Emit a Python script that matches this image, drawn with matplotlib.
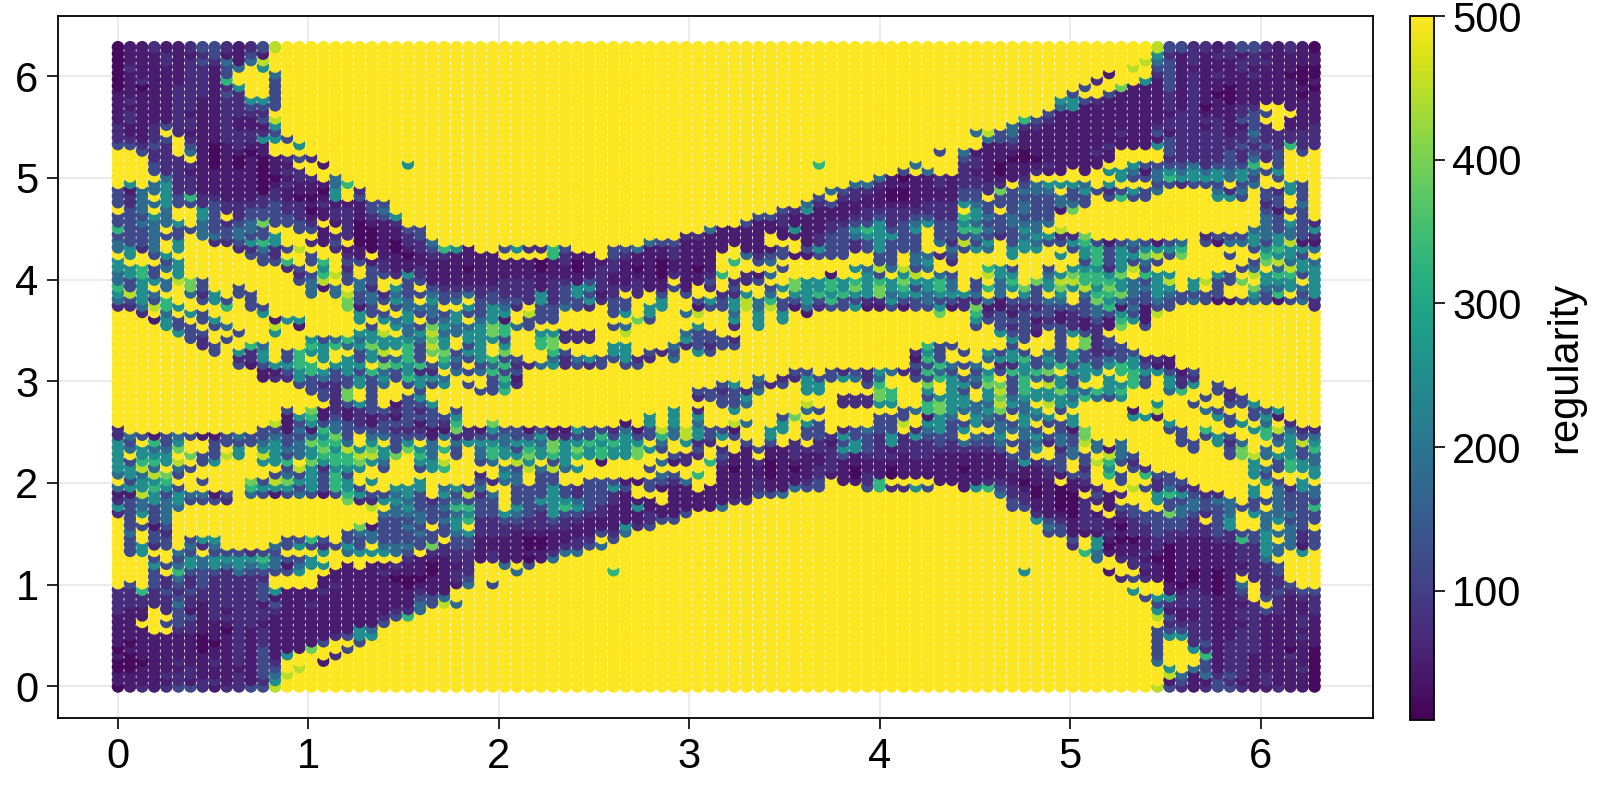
import numpy as np
import matplotlib
matplotlib.use("Agg")
import matplotlib.pyplot as plt
from matplotlib.colors import Normalize
from matplotlib.cm import ScalarMappable

plt.rcParams['font.family'] = ['Liberation Sans', 'DejaVu Sans']

# regularity, one digit per point, top row first
# Y = ten yellow points in a row, digit = index into level_values
level_values = [25, 50, 75, 120, 180, 250, 330, 390, 450, 500]
rows = [
"0112112332 1238999999 Y Y Y Y Y Y 9999998332 2123321210",
"0111211231 1319999999 Y Y Y Y Y Y 9999995212 1221211111",
"0111212324 1489999999 Y Y Y Y Y Y 9999984312 1112221111",
"0211112213 4959999999 Y Y Y Y Y Y 9999893311 1112111100",
"0111112213 9994999999 Y Y Y Y Y Y 9919992312 1211211000",
"0121112216 9993999999 Y Y Y Y Y Y 9299951312 1111111101",
"0101122212 5993999999 Y Y Y Y Y Y 3997111312 1101111110",
"1111122213 2993999999 Y Y Y Y Y 9999999993 9931111212 1001111101",
"1211122112 2553999999 Y Y Y Y Y 9999999955 3211111212 1101111111",
"1111122112 2333999999 Y Y Y Y Y 9999999945 1111111212 0112299111",
"1211121112 2229999999 Y Y Y Y Y 9999999311 1111111122 1112339911",
"1211122112 1138999999 Y Y Y Y Y 9999963211 1111111222 2213399111",
"2112322112 1115999999 Y Y Y Y Y 9999422111 1111112222 1211329112",
"2112921112 2223999999 Y Y Y Y Y 9483411111 1112113122 2212422222",
"2212392112 2255399999 Y Y Y Y Y 9943311111 1111111322 2222322222",
"3323293101 2119959999 Y Y Y Y Y 9911211111 1121115322 2223232622",
"9932294101 1019999999 Y Y Y Y 9999999939 4111101111 1219999322 2232323939",
"9992229101 0101232999 Y Y Y Y Y 3211000111 1119999222 2232423999",
"9993222101 0101199199 9999599999 Y Y 9999999969 9999994999 2210111211 1199533334 2333693999",
"9993221111 1101229999 Y Y Y Y 9999939499 2110112119 1955414545 4545435999",
"9999422111 1100122949 Y Y Y Y 9994101121 2211129999 9995334655 5545393999",
"9594522111 1101211146 Y Y Y Y 9442111121 2222934555 4959993323 3393499539",
"3144522111 1102111059 2999999999 Y Y 9999999994 3221001111 3327344493 5323534999 9424932539",
"3249536221 1122100159 3999999999 Y Y 9999999939 2211001111 3393333343 3936339999 9553933939",
"3244533232 2223221211 1339999999 Y Y 9999999423 1111111222 5433343344 3999999999 9999923949",
"9349499532 2333220122 1349999999 Y Y 9999932511 1122222222 9539343317 Y 9999931339",
"3335499539 2333321122 1235999999 Y Y 9993321111 1223223322 6543433399 Y 9999943939",
"3344459432 3473332912 0112999999 Y Y 9931121112 2335234533 5433444499 Y 9999943532",
"6334933433 4439933192 0011339999 Y 9999999994 1111115112 3565335933 6643354989 Y 9999443435",
"3334339443 4335999122 0011239999 Y 9999999221 1111911123 3455533933 3432345522 7999999999 2333545432",
"4334959922 3565992139 0010224999 Y 9999433111 1111999123 3235333942 8359354335 6313431349 3144535811",
"4524959999 2242389921 1010123651 9935226399 9334112111 1911139353 3235333994 3549555993 5635355569 9999356554",
"9593599999 9332993992 1911012211 1199996211 9321112111 9942331133 3993394423 9999599959 5635578379 9939965539",
"5999359999 9933693693 3121111111 1111101201 1211101111 9693499999 9993394592 Y 3635343999 9999378454",
"5563459999 9999239592 9321121110 1111101101 2210101101 9999939999 9548483499 9965399395 5525839999 9993494855",
"4563959999 9999923683 9332521111 1111111111 2111102112 6921499991 9953958943 9985599457 6657965599 9539856635",
"4355487399 9999934893 4399331111 1122212213 2112119113 9223997556 5656575564 9394697588 6665435895 8337955595",
"6359497399 3999994149 4295393222 2222212355 2222113192 9399357556 5757563564 9364573575 8575445595 9399744545",
"5854994259 3399994948 3424334334 2322252353 1292939399 2259495565 6557455455 5494953959 4667435433 3399536935",
"4353699353 9399999997 3435495349 3333252335 2339959935 3584633536 3322533433 2241333449 3754334334 3113431342",
"2248659996 9339999997 1393444995 3542933432 9339559913 3584831423 3511313351 2711222333 3461413399 9999999992",
"9929495399 9959999999 5339534353 3559833999 9359599489 9495959199 9999999979 9623133312 3435318999 Y",
"9991539359 9991559999 5954593459 4519333999 9997399999 9595959999 Y 9533331212 1316519999 Y",
"9999533934 9998919999 9395437544 5764399999 9349999959 9295999999 Y 9393232332 1217939999 Y",
"9999953399 3995999999 5589458445 5769955222 9989999433 Y Y 9995331935 3299999999 Y",
"9999993293 9999995346 4555547595 5539967222 9999999533 3299999999 Y 9999539939 7239999999 Y",
"9999999239 9649996564 5755638593 5959967999 9559994232 3399999999 9999999633 9999399939 7233999999 Y",
"9999999939 5259365599 3589637735 5979996399 9559323953 Y 9999992539 3953539435 3223399999 Y",
"Y 2259369595 3534639643 5633994245 3352294999 Y 9999991639 9945563535 3343522199 Y",
"Y 3135566955 5976563539 3462245232 3933999999 Y 9999993364 3492253463 5356531199 Y",
"Y 9911356535 3643522943 4633999999 Y 9999993393 2325422643 9353656795 5596655313 Y",
"Y 9912253433 5353655499 9361999999 Y 9994922533 5424993365 3469364353 5959639522 Y",
"Y 9999933223 5349353593 9352999999 Y 3593239559 9936999795 5377369853 9955639525 9399999999",
"Y 9999993327 9399939999 3369999999 9999999933 2324999559 9997699595 3958365575 4656999469 9329999999",
"Y 9999999327 9399359999 Y 9999999923 3359999999 2227699355 5957455554 6435999999 3923999999",
"Y 9999999923 5391335999 Y Y 3349999899 2225599675 5448549855 9999995993 9933599999",
"Y 9999397121 2332323939 Y 9999995929 9599999439 9999934675 4457345939 9999198999 4399335999",
"Y 9999156131 2121333359 Y 9999595959 9999937999 9993339154 9543954595 9999551999 9539351999",
"Y 9998135343 2133313269 9799999999 9919595949 9849959539 9993389553 3534359335 9999999599 9935949299",
"2999999999 9933141643 3332221172 1533131153 3241384853 3199559339 2343392453 5994443931 7999999339 6999568422",
"2431343113 4334334573 9443331422 3343352233 6353364853 5399599332 5332525333 9435945343 7999999939 3539963534",
"5396359933 3345347664 9593594945 5545547556 5655949522 9939392921 3532522232 4334334243 8494999933 9524994585",
"5454479939 5955445758 5753754639 4653657575 6557539939 2913112222 5532122222 2223935924 9414999993 9937949536",
"5955597338 5985345666 8857964939 4655756565 6557993229 3119112112 3122212211 1111339934 3984399999 9937845534",
"5366589359 9955697566 7549955899 3498593599 1999941296 2112011112 1111111111 1111252339 3863299999 9999593654",
"5584943999 9999385255 5939935699 9943848459 9999399999 1011010122 1011011111 0111211239 2959329999 9999543655",
"4548739999 9993435363 Y 2954933999 9999943969 1111011121 1021011111 1111111213 3963963399 9999539995",
"9355699399 9738755365 9599959999 3244933993 3311332499 1112111239 1126999911 1122101191 2993992339 9999953959",
"4556539999 9655535365 3995559453 4993335323 3539311191 1112114339 9936225399 1563210101 1299832422 9999594254",
"1185354413 9431343136 5334539538 2493335323 3219991111 1113349999 Y 9994220100 9312995653 2299594334",
"2345453332 9999999997 2255432343 3393355543 3211191111 1229999999 Y 9999321100 2219995334 3449334333",
"5343449999 Y 9894533466 3395335653 2115111111 4999999999 Y 9999331100 2913399344 3343394336",
"2353499999 Y 9944443345 3354325332 2111211399 Y Y 9999992110 2192333743 2349544433",
"9393499999 Y 9933343456 2233223221 1111233999 Y Y 9999995321 2211233332 9359945333",
"9331399999 Y 7133439359 2222222211 1152399999 Y Y 9999999431 2210223332 2359949439",
"9493299999 9999999993 4433343345 2221111111 3249999999 Y Y 9999999331 1121223222 2323354423",
"9393393559 9999336393 3433333933 1111001122 9399999999 Y Y 9999999993 9510012211 1226359423",
"9352394249 9994353235 3944437233 1111001223 4999999999 Y Y 9999999992 9501112011 1112254413",
"9359943933 3233999594 5554392222 1211112449 Y Y Y Y 6411121011 1112254959",
"9993935455 5564335999 9999211122 1211014999 Y Y Y Y 9492210011 1112249999",
"9995345454 5454145591 9112110112 9949399999 Y Y Y Y 9999221011 1111223999",
"9993963332 4333359911 1121110122 9994999999 9699999999 Y Y 9999959999 9919911010 1012223999",
"9993242322 2229999111 1110001123 Y Y Y Y Y 9992321010 1019222999",
"9393232322 2239999121 1111011114 9399999999 Y Y Y Y 9999999101 1014922399",
"2262323222 2235111211 1111121199 Y Y Y Y Y 9999599112 1013923233",
"2222232222 2231111111 1111133499 Y Y Y Y Y 9999935522 2112932122",
"2222242122 2213112111 1111143849 Y Y Y Y Y 9999993222 2111292112",
"2119231121 2222111111 1112249999 Y Y Y Y Y 9999995111 2112232112",
"1119933122 2221111111 1123699999 Y Y Y Y Y 9999998311 2112211121",
"1199332111 2211111111 1139999999 Y Y Y Y Y 9999999222 2111211121",
"1119922110 2121111111 5499999999 Y Y Y Y Y 9999993332 2112211111",
"1111111011 2121111123 5599999999 Y Y Y Y Y 9999993552 2112211121",
"1011111001 2121111399 3999999999 Y Y Y Y Y 9999993992 3122211111",
"0111111011 2131117993 Y Y Y Y Y Y 9999993995 2122211010",
"1011111111 2131599929 Y Y Y Y Y Y 9999993999 6122111210",
"0001121121 2132999199 Y Y Y Y Y Y 9999994999 3122111110",
"0011112111 1133989999 Y Y Y Y Y Y 9999999594 3122111120",
"1111222111 2134899999 Y Y Y Y Y Y 9999999841 4232121110",
"1111121221 2125999999 Y Y Y Y Y Y 9999999131 1321121110",
"0121233212 2338999999 Y Y Y Y Y Y 9999998321 2332112110",
]
x_ticks = [0, 1, 2, 3, 4, 5, 6]
y_ticks = [0, 1, 2, 3, 4, 5, 6]
cbar_ticks = [100, 200, 300, 400, 500]

grid = np.array([[level_values[int(c)] for c in r.replace("Y", "9" * 10).replace(" ", "")] for r in rows], dtype=float)
grid = grid[::-1]  # bottom row first, later rows paint over earlier ones

xs = np.linspace(0, 2 * np.pi, grid.shape[1])
ys = np.linspace(0, 2 * np.pi, grid.shape[0])
X, Y = np.meshgrid(xs, ys)

W, H = 1600, 800
fig = plt.figure(figsize=(W / 100, H / 100), dpi=100)
ax = fig.add_axes([58 / W, 1 - 718 / H, (1373 - 58) / W, (718 - 16) / H])
norm = Normalize(10, 500)

ax.scatter(X.ravel(), Y.ravel(), c=grid.ravel(), cmap='viridis', norm=norm, s=82, linewidths=0, zorder=3)
ax.set_xlim(-0.315, 6.59)
ax.set_ylim(-0.31, 6.59)
ax.set_xticks(x_ticks)
ax.set_yticks(y_ticks)
ax.grid(True, color='#e5e5e5', lw=1.1)
ax.set_axisbelow(True)
ax.tick_params(axis='x', labelsize=30, length=8, width=1.2, pad=6)
ax.tick_params(axis='y', labelsize=30, length=8, width=1.2, pad=6)
for s in ax.spines.values():
    s.set_linewidth(1.3)

cax = fig.add_axes([1410 / W, 1 - 720 / H, 24 / W, (720 - 16) / H])
cb = fig.colorbar(ScalarMappable(norm=norm, cmap='viridis'), cax=cax)
cb.set_ticks(cbar_ticks)
cb.ax.tick_params(labelsize=30, length=8, width=1.2, pad=5)
cb.outline.set_linewidth(1.3)
fig.text(1565 / W, 1 - 367 / H, "regularity", fontsize=30, rotation=90, ha='center', va='center')

fig.savefig("out.png", dpi=100)
